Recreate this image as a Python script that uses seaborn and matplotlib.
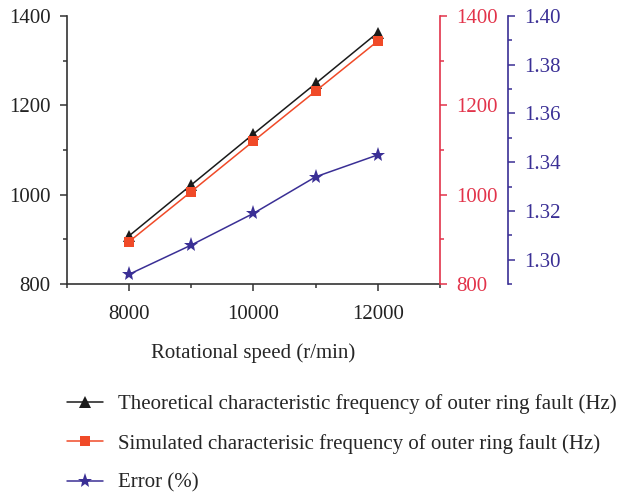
import matplotlib
matplotlib.use("Agg")
import matplotlib.pyplot as plt
from matplotlib.ticker import MultipleLocator, FormatStrFormatter
from matplotlib.lines import Line2D
import seaborn as sns
import pandas as pd

# Rotational speed (r/min)
speed = [8000, 9000, 10000, 11000, 12000]
# Theoretical outer ring fault characteristic frequency (Hz)
theoretical = [908, 1022, 1136, 1249, 1363]
# Simulated outer ring fault characteristic frequency (Hz)
simulated = [895, 1007, 1120, 1232, 1344]
# Relative error (%)
error = [1.294, 1.306, 1.319, 1.334, 1.343]

labels = [
    "Theoretical characteristic frequency of outer ring fault (Hz)",
    "Simulated characterisic frequency of outer ring fault (Hz)",
    "Error (%)",
]

sns.set_style("ticks")
plt.rcParams["font.family"] = ["Liberation Serif", "DejaVu Serif"]
plt.rcParams["font.size"] = 15

c_black = "#1a1a1a"
c_sim = "#f04a28"
c_red_axis = "#e2334a"
c_purple = "#3a2f95"

df = pd.DataFrame({"speed": speed, "theoretical": theoretical,
                   "simulated": simulated, "error": error})

fig = plt.figure(figsize=(6.19, 4.94), dpi=100)
ax = fig.add_axes([67 / 619, 1 - 284 / 494, (440 - 67) / 619, (284 - 16) / 494])
ax2 = ax.twinx()
ax3 = ax.twinx()

sns.lineplot(data=df, x="speed", y="theoretical", ax=ax, color=c_black,
             marker="^", markersize=8, markeredgewidth=0, lw=1.1, zorder=3)
sns.lineplot(data=df, x="speed", y="simulated", ax=ax2, color=c_sim,
             marker="s", markersize=7, markeredgewidth=0, lw=1.1, zorder=3)
sns.lineplot(data=df, x="speed", y="error", ax=ax3, color=c_purple,
             marker="*", markersize=11, markeredgewidth=0, lw=1.1, zorder=3)

ax.set_xlim(7000, 13000)
for a in (ax, ax2):
    a.set_ylim(800, 1400)
    a.yaxis.set_major_locator(MultipleLocator(200))
    a.yaxis.set_minor_locator(MultipleLocator(100))
ax3.set_ylim(1.29, 1.40)
ax3.set_yticks([1.30, 1.32, 1.34, 1.36, 1.38, 1.40])
ax3.yaxis.set_minor_locator(MultipleLocator(0.01))
ax3.yaxis.set_major_formatter(FormatStrFormatter("%.2f"))

ax.set_xticks([8000, 10000, 12000])
ax.xaxis.set_minor_locator(MultipleLocator(1000))
ax.set_xlabel("Rotational speed (r/min)", labelpad=14)
for a in (ax, ax2, ax3):
    a.set_ylabel("")

# Spines
for a in (ax, ax2, ax3):
    a.spines["top"].set_visible(False)
ax.spines["right"].set_visible(False)
ax.spines["left"].set_color("#333333")
ax.spines["bottom"].set_color("#333333")
ax2.spines["left"].set_visible(False)
ax2.spines["bottom"].set_visible(False)
ax2.spines["right"].set_color(c_red_axis)
ax3.spines["left"].set_visible(False)
ax3.spines["bottom"].set_visible(False)
ax3.spines["right"].set_position(("axes", 1.181))
ax3.spines["right"].set_color(c_purple)
for a in (ax, ax2, ax3):
    for s in a.spines.values():
        s.set_linewidth(1.2)

ax.tick_params(axis="y", which="major", length=5, width=1.1, colors="#333333",
               labelcolor="#222222", pad=7)
ax.tick_params(axis="x", which="major", length=5, width=1.1, colors="#333333",
               labelcolor="#222222", pad=10)
ax.tick_params(axis="both", which="minor", length=3, width=1.1, colors="#333333")
ax2.tick_params(axis="y", which="major", length=5, width=1.1, colors=c_red_axis, pad=7)
ax2.tick_params(axis="y", which="minor", length=3, width=1.1, colors=c_red_axis)
ax3.tick_params(axis="y", which="major", length=5, width=1.1, colors=c_purple, pad=7)
ax3.tick_params(axis="y", which="minor", length=3, width=1.1, colors=c_purple)

# Legend below the plot
handles = [
    Line2D([], [], color=c_black, marker="^", markersize=8, markeredgewidth=0, lw=1.1),
    Line2D([], [], color=c_sim, marker="s", markersize=7, markeredgewidth=0, lw=1.1),
    Line2D([], [], color=c_purple, marker="*", markersize=11, markeredgewidth=0, lw=1.1),
]
fig.legend(handles, labels, loc="upper left", bbox_to_anchor=(67 / 619, 1 - 394 / 494),
           frameon=False, handlelength=1.75, handletextpad=0.7, labelspacing=0.95,
           fontsize=15, borderaxespad=0, borderpad=0)

fig.savefig("out.png", dpi=100)
